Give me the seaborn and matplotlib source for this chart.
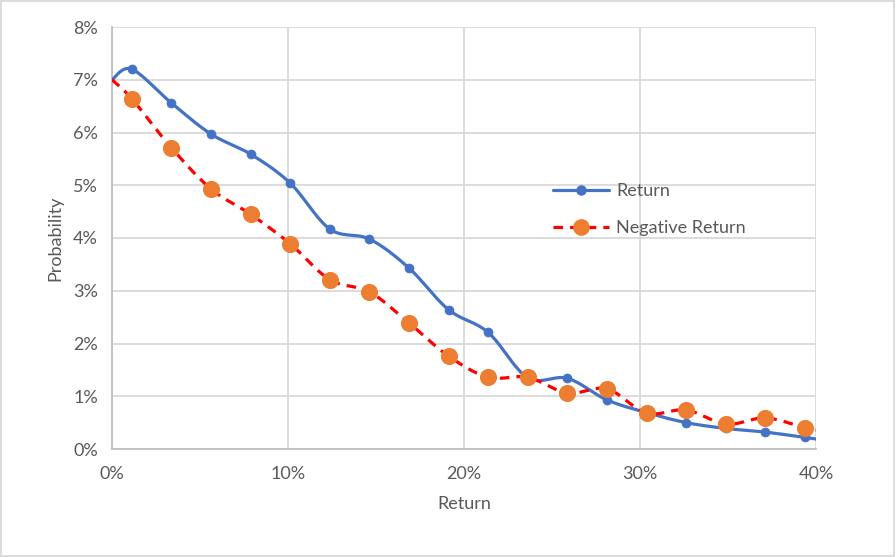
import numpy as np
import pandas as pd
import matplotlib
matplotlib.use("Agg")
import matplotlib.pyplot as plt
import seaborn as sns
from matplotlib.ticker import MultipleLocator, FuncFormatter
from matplotlib.lines import Line2D

# ---- data (percent) ----
returns_x = [1.125, 3.375, 5.625, 7.875, 10.125, 12.375, 14.625, 16.875, 19.125,
             21.375, 23.625, 25.875, 28.125, 30.375, 32.625, 34.875, 37.125, 39.375]
return_prob = [7.20, 6.56, 5.97, 5.59, 5.04, 4.17, 3.98, 3.43, 2.64,
               2.21, 1.35, 1.34, 0.93, 0.69, 0.50, 0.39, 0.32, 0.22]
neg_return_prob = [6.64, 5.71, 4.93, 4.45, 3.89, 3.21, 2.98, 2.39, 1.76,
                   1.36, 1.36, 1.06, 1.14, 0.68, 0.74, 0.47, 0.59, 0.40]
edge_x = [0.0, 40.0]
return_edges = [7.0, 0.19]
neg_edges = [7.0, 0.36]


def smooth(x, y, n=20):
    x = np.asarray(x, float); y = np.asarray(y, float)
    px = np.concatenate([[x[0]], x, [x[-1]]])
    py = np.concatenate([[y[0]], y, [y[-1]]])
    ox, oy = [], []
    t = np.linspace(0, 1, n, endpoint=False)
    for i in range(1, len(px) - 2):
        p0, p1, p2, p3 = [np.array([px[j], py[j]]) for j in range(i - 1, i + 3)]
        c1 = p1 + (p2 - p0) / 6.0
        c2 = p2 - (p3 - p1) / 6.0
        for tt in t:
            b = ((1 - tt) ** 3) * p1 + 3 * ((1 - tt) ** 2) * tt * c1 + 3 * (1 - tt) * tt ** 2 * c2 + tt ** 3 * p2
            ox.append(b[0]); oy.append(b[1])
    ox.append(x[-1]); oy.append(y[-1])
    return np.array(ox), np.array(oy)


rx = [edge_x[0]] + returns_x + [edge_x[1]]
ry = [return_edges[0]] + return_prob + [return_edges[1]]
ny = [neg_edges[0]] + neg_return_prob + [neg_edges[1]]

sx, sy = smooth(rx, ry)
nx_, nyy = smooth(rx, ny)
r_line = pd.DataFrame({"x": sx, "y": sy})
n_line = pd.DataFrame({"x": nx_, "y": nyy})
r_pts = pd.DataFrame({"x": returns_x, "y": return_prob})
n_pts = pd.DataFrame({"x": returns_x, "y": neg_return_prob})

sns.set_style("white")
plt.rcParams['font.family'] = ['Lato', 'DejaVu Sans']

fig = plt.figure(figsize=(8.96, 5.57), dpi=100)
ax = fig.add_axes([112 / 896, 1 - 449 / 557, 704 / 896, 422 / 557])

blue = "#4472C4"
orange = "#ED7D31"
red = "#FF0000"
txt = "#595959"
dash = (0, (3, 2.2))

sns.lineplot(data=r_line, x="x", y="y", sort=False, color=blue, lw=2.3, ax=ax, zorder=3, legend=False)
sns.lineplot(data=n_line, x="x", y="y", sort=False, color=red, lw=2.3, ax=ax, zorder=3,
             legend=False, linestyle=dash)
sns.scatterplot(data=r_pts, x="x", y="y", color=blue, s=42, edgecolor=blue, ax=ax, zorder=4, legend=False)
sns.scatterplot(data=n_pts, x="x", y="y", color=orange, s=130, edgecolor=orange, ax=ax, zorder=5, legend=False)

ax.set_xlim(0, 40)
ax.set_ylim(0, 8)
ax.xaxis.set_major_locator(MultipleLocator(10))
ax.xaxis.set_minor_locator(MultipleLocator(5))
ax.yaxis.set_major_locator(MultipleLocator(1))
pct = FuncFormatter(lambda v, p: f"{v:.0f}%")
ax.xaxis.set_major_formatter(pct)
ax.yaxis.set_major_formatter(pct)
ax.grid(True, which="major", color="#D9D9D9", lw=1.3)
ax.set_axisbelow(True)
for side in ["top", "right"]:
    ax.spines[side].set_visible(False)
for side in ["left", "bottom"]:
    ax.spines[side].set_color("#BFBFBF")
    ax.spines[side].set_linewidth(1.3)
ax.tick_params(axis="both", which="major", length=0, labelsize=13, colors=txt, pad=10)
ax.tick_params(axis="x", which="minor", direction="in", length=4, color="#BFBFBF", width=1.3)
ax.tick_params(axis="x", which="major", pad=12)

ax.set_xlabel("Return", fontsize=13, color=txt, labelpad=10)
ax.set_ylabel("Probability", fontsize=13, color=txt, labelpad=7)

handles = [
    Line2D([], [], color=blue, lw=2.3, marker="o", markersize=6.5, markerfacecolor=blue, markeredgecolor=blue),
    Line2D([], [], color=red, lw=2.3, linestyle=dash, marker="o", markersize=11,
           markerfacecolor=orange, markeredgecolor=orange),
]
leg = ax.legend(handles, ["Return", "Negative Return"], loc="upper left",
                bbox_to_anchor=(0.603, 0.668), frameon=False, fontsize=13,
                handlelength=3.1, labelspacing=1.15, handletextpad=0.4)
for t in leg.get_texts():
    t.set_color(txt)

fig.patches.append(plt.Rectangle((0.001, 0.001), 0.997, 0.997, transform=fig.transFigure,
                                 fill=False, edgecolor="#D9D9D9", lw=1.3))

fig.savefig("out.png", dpi=100)
